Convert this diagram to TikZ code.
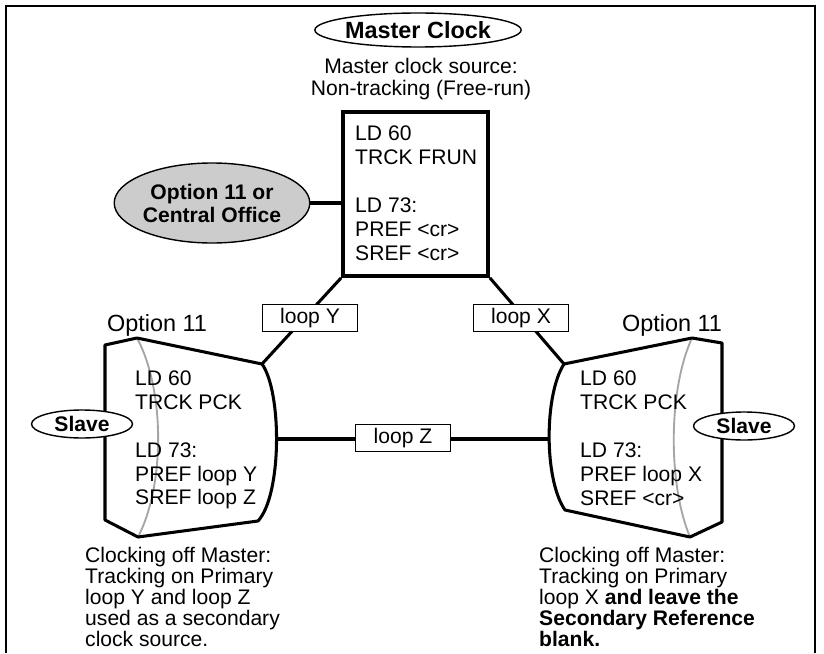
\documentclass[tikz,border=0pt]{standalone}
\usepackage{fontspec}
\setmainfont{Liberation Sans}
\usetikzlibrary{shapes.geometric}

\tikzset{
  txt/.style={font=\fontsize{18}{20.4}\selectfont, align=left, inner sep=0pt},
  note/.style={font=\fontsize{18}{17.9}\selectfont, align=left, inner sep=0pt, anchor=north west},
  tag/.style={ellipse, draw, line width=1.2pt, fill=white, inner sep=0pt,
    font=\fontsize{18}{19.6}\bfseries\selectfont, align=center},
  loopbox/.style={draw, line width=0.9pt, fill=white, minimum width=2.85cm,
    minimum height=0.81cm, inner sep=0pt, font=\fontsize{18}{20}\selectfont},
  link/.style={line width=2.6pt},
  cab/.style={line width=2.6pt, line join=round},
  cabline/.style={black!35, line width=1.6pt},
}

\begin{document}
\begin{tikzpicture}[x=0.03cm, y=-0.03cm]
  \useasboundingbox (0,0) rectangle (824,653);

  % frame
  \draw[line width=2.5pt] (6,653) -- (6,6) -- (815,6) -- (815,653);

  % master side
  \node[tag, minimum width=5.97cm, minimum height=1.02cm,
    font=\fontsize{20}{22}\bfseries\selectfont] (master) at (418,30) {Master Clock};
  \node[txt, align=center, font=\fontsize{18}{18.7}\selectfont] (msrc) at (421,79)
    {Master clock source:\\Non-tracking (Free-run)};
  \node[draw, line width=3.2pt, minimum width=4.35cm, minimum height=4.92cm] (mbox) at (415.5,194) {};
  \node[txt, anchor=west] (mtxt) at (355,193)
    {LD 60\\TRCK FRUN\\[20.4pt]LD 73:\\PREF <cr>\\SREF <cr>};
  \node[tag, fill=black!20, minimum width=5.04cm, minimum height=2.4cm] (co) at (212,203)
    {Option 11 or\\Central Office};
  \draw[link] (co.east) -- (co.east -| mbox.west);

  % cabinet corners
  \coordinate (ltr) at (262,364);
  \coordinate (lmid) at (275,439);
  \coordinate (rtl) at (564,364);
  \coordinate (rmid) at (549,439);

  % left cabinet
  \draw[cabline] (137,338) .. controls (165,390) and (165,485) .. (138,537);
  \draw[cab] (105,345) -- (137,338) -- (ltr) .. controls (282,392) and (282,495) .. (258,521)
    -- (138,537) -- (105,520) -- cycle;
  % right cabinet
  \draw[cabline] (692,338) .. controls (668,390) and (668,485) .. (690,537);
  \draw[cab] (rtl) -- (692,338) -- (722,343) -- (722,522) -- (690,537) -- (565,510)
    .. controls (544,480) and (544,395) .. (rtl) -- cycle;

  % links
  \draw[link] (mbox.south west) -- (ltr);
  \draw[link] (mbox.south east) -- (rtl);
  \draw[link] (lmid) -- (rmid);
  \node[loopbox] (loopy) at (310,318) {loop Y};
  \node[loopbox] (loopx) at (521,318) {loop X};
  \node[loopbox] (loopz) at (403,438) {loop Z};

  % slaves
  \node[txt, font=\fontsize{20}{22}\selectfont] (lopt) at (157,325) {Option 11};
  \node[txt, font=\fontsize{20}{22}\selectfont] (ropt) at (672,325) {Option 11};
  \node[txt, anchor=west] (ltxt) at (135,440)
    {LD 60\\TRCK PCK\\[20.4pt]LD 73:\\PREF loop Y\\SREF loop Z};
  \node[txt, anchor=west] (rtxt) at (580,438)
    {LD 60\\TRCK PCK\\[20.4pt]LD 73:\\PREF loop X\\SREF <cr>};
  \node[tag, minimum width=3.03cm, minimum height=0.84cm] (lslave) at (82,424) {Slave};
  \node[tag, minimum width=3.03cm, minimum height=0.84cm] (rslave) at (744,426) {Slave};

  % notes
  \node[note] (lnote) at (85,547)
    {Clocking off Master:\\Tracking on Primary\\loop Y and loop Z\\used as a secondary\\clock source.};
  \node[note] (rnote) at (539,547)
    {Clocking off Master:\\Tracking on Primary\\loop X \textbf{and leave the}\\\textbf{Secondary Reference}\\\textbf{blank.}};
\end{tikzpicture}
\end{document}
